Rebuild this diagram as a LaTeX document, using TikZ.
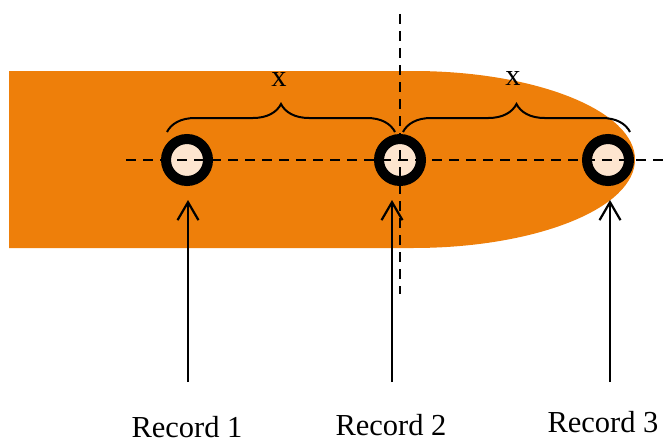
\documentclass[tikz,border=0pt]{standalone}
\usepackage{fontspec}
\setmainfont{Liberation Serif}
\usetikzlibrary{decorations.pathreplacing,arrows.meta}
\definecolor{orng}{HTML}{EE7F0A}
\definecolor{peach}{HTML}{FDE5CF}
\tikzset{
  ring/.style={circle, draw=black, line width=10pt, fill=peach, minimum size=42pt, inner sep=0pt},
  dline/.style={line width=2.6pt, dash pattern=on 10pt off 7pt},
  bracepath/.style={line width=2pt, decorate, decoration={brace, amplitude=28pt}},
  arr/.style={line width=2.2pt, -{Straight Barb[length=18pt,width=21pt,line width=2.2pt]}},
  lbl/.style={font=\fontsize{30.5}{36}\selectfont, inner sep=0pt, anchor=base},
}
\begin{document}
\begin{tikzpicture}[x=1pt,y=-1pt]
\useasboundingbox (0,0) rectangle (666,444);
% orange bullet shape
\fill[orng] (9,71) -- (413,71) arc[start angle=-90, end angle=90, x radius=222, y radius=88.5] -- (9,248) -- cycle;
% records
\node[ring] (c1) at (187,160) {};
\node[ring] (c2) at (400,160) {};
\node[ring] (c3) at (608,160) {};
% dashed axes
\coordinate (h0) at (126,160);
\coordinate (h1) at (666,160);
\coordinate (v0) at (400,14);
\coordinate (v1) at (400,294);
\draw[dline] (h0) -- (h1);
\draw[dline] (v0) -- (v1);
% braces
\coordinate (b1a) at (167,132);
\coordinate (b1b) at (395,132);
\coordinate (b2a) at (403,132);
\coordinate (b2b) at (630,132);
\draw[bracepath] (b1a) -- (b1b);
\draw[bracepath] (b2a) -- (b2b);
\node[lbl] (x1) at (279,86) {x};
\node[lbl] (x2) at (513,85) {x};
% arrows
\coordinate (a1s) at (188,382);
\coordinate (a1e) at (188,200);
\coordinate (a2s) at (392,382);
\coordinate (a2e) at (392,200);
\coordinate (a3s) at (610,382);
\coordinate (a3e) at (610,200);
\draw[arr] (a1s) -- (a1e);
\draw[arr] (a2s) -- (a2e);
\draw[arr] (a3s) -- (a3e);
% labels
\node[lbl] (r1) at (187,437) {Record 1};
\node[lbl] (r2) at (391,435) {Record 2};
\node[lbl] (r3) at (603,432) {Record 3};
\end{tikzpicture}
\end{document}
